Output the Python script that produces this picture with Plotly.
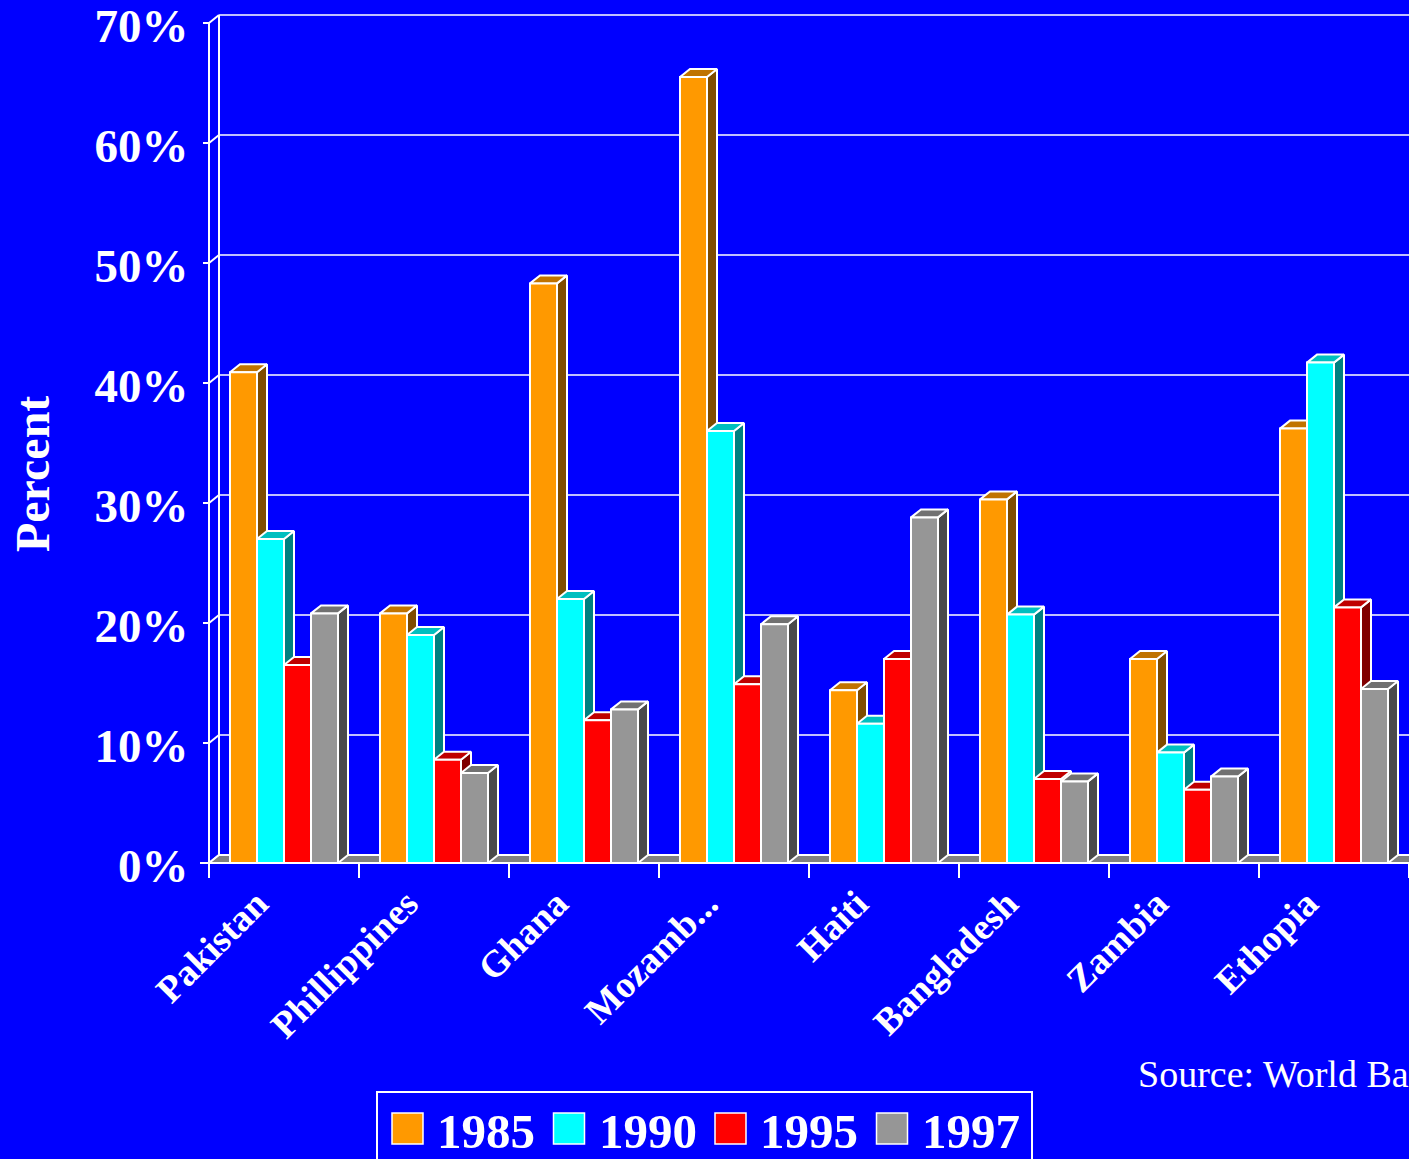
import plotly.graph_objects as go

# ---- data -------------------------------------------------------------
countries = ["Pakistan", "Phillippines", "Ghana", "Mozamb...", "Haiti",
             "Bangladesh", "Zambia", "Ethopia"]
years = ["1985", "1990", "1995", "1997"]
v1985 = [40.9, 20.8, 48.3, 65.5, 14.4, 30.3, 17.0, 36.2]
v1990 = [27.0, 19.0, 22.0, 36.0, 11.6, 20.7, 9.2, 41.7]
v1995 = [16.5, 8.6, 11.9, 14.9, 17.0, 7.0, 6.1, 21.3]
v1997 = [20.8, 7.5, 12.8, 19.9, 28.8, 6.8, 7.2, 14.5]
series = [v1985, v1990, v1995, v1997]
y_ticks = [0, 10, 20, 30, 40, 50, 60, 70]
y_ticktext = [f"{t}%" for t in y_ticks]

# ---- styling ----------------------------------------------------------
W, H = 1409, 1159
BG = "#0000FF"
FRONT = ["#FF9900", "#00FFFF", "#FF0000", "#969696"]
TOP = ["#C07300", "#00BFBF", "#BF0000", "#717171"]
SIDE = ["#7F4C00", "#008080", "#800000", "#4B4B4B"]
FLOOR = "#808080"
SERIF = "Liberation Serif"

PX_PER_CAT = 150.0
PX_PER_UNIT = 12.0
DX = 10 / PX_PER_CAT      # depth offset along x (category units)
DY = 8 / PX_PER_UNIT      # depth offset along y (percent units)
GROUP_W = 0.72
BAR_W = GROUP_W / len(series)
X_MIN, X_MAX = -0.5, len(countries) - 0.5
Y_MAX = 70

fig = go.Figure()


def poly(xs, ys, fill, line_color="white", line_width=2):
    fig.add_trace(go.Scatter(
        x=xs + [xs[0]], y=ys + [ys[0]], mode="lines", fill="toself",
        fillcolor=fill, line=dict(color=line_color, width=line_width),
        hoverinfo="skip", showlegend=False))


def line(xs, ys, width=1.6):
    fig.add_trace(go.Scatter(
        x=xs, y=ys, mode="lines", line=dict(color="white", width=width),
        hoverinfo="skip", showlegend=False))


# back wall gridlines
for t in y_ticks:
    line([X_MIN + DX, X_MAX + DX + 1], [t + DY, t + DY])

# left side wall: front edge, back edge and connectors at each tick
line([X_MIN, X_MIN], [0, Y_MAX], width=2)
line([X_MIN + DX, X_MIN + DX], [DY, Y_MAX + DY], width=2)
for t in y_ticks:
    line([X_MIN, X_MIN + DX], [t, t + DY], width=2)

# floor
poly([X_MIN, X_MAX + 1, X_MAX + 1 + DX, X_MIN + DX], [0, 0, DY, DY], FLOOR)

# 3-D columns, drawn left to right so each one hides its neighbour's side
for ci in range(len(countries)):
    for si, vals in enumerate(series):
        v = vals[ci]
        x0 = ci - GROUP_W / 2 + si * BAR_W
        x1 = x0 + BAR_W
        poly([x1, x1 + DX, x1 + DX, x1], [0, DY, v + DY, v], SIDE[si])
        poly([x0, x1, x1 + DX, x0 + DX], [v, v, v + DY, v + DY], TOP[si])
        poly([x0, x1, x1, x0], [0, 0, v, v], FRONT[si])

# front edge of the floor
line([X_MIN - 0.1, X_MAX + 1], [0, 0], width=2.2)

# ---- layout -----------------------------------------------------------
def px_x(px):
    return px / W


def px_y(py):
    return 1 - py / H


y_bottom_px, y_top_px = 872, 8
y0_px = 863
x_left_px = 200

fig.update_layout(
    width=W, height=H,
    margin=dict(l=0, r=0, t=0, b=0, autoexpand=False),
    paper_bgcolor=BG, plot_bgcolor=BG,
    showlegend=False,
    xaxis=dict(
        domain=[px_x(x_left_px), 1],
        range=[X_MIN - (209 - x_left_px) / PX_PER_CAT, X_MAX],
        tickmode="array", tickvals=list(range(len(countries))),
        ticktext=countries, tickangle=-45, ticks="",
        tickfont=dict(family=SERIF, size=37.5, color="white", weight="bold"),
        ticklabelshift=-27, ticklabelstandoff=10,
        ticklabeloverflow="allow",
        showgrid=False, zeroline=False, showline=False, automargin=False,
        anchor="free", position=px_y(y0_px),
        minor=dict(tickmode="array",
                   tickvals=[i - 0.5 for i in range(len(countries) + 1)],
                   ticks="outside", ticklen=14, tickwidth=2,
                   tickcolor="white", showgrid=False),
    ),
    yaxis=dict(
        domain=[px_y(y_bottom_px), px_y(y_top_px)],
        range=[-(y_bottom_px - y0_px) / PX_PER_UNIT,
               (y0_px - y_top_px) / PX_PER_UNIT],
        tickmode="array", tickvals=y_ticks, ticktext=y_ticktext,
        ticks="outside", ticklen=6, tickwidth=2, tickcolor="white",
        tickfont=dict(family=SERIF, size=47, color="white", weight="bold"),
        ticklabelstandoff=5, ticklabelshift=3,
        ticklabeloverflow="allow",
        showgrid=False, zeroline=False, showline=False, automargin=False,
        anchor="free", position=px_x(209),
    ),
)

# axis title
fig.add_annotation(
    x=px_x(33), y=px_y(474), xref="paper", yref="paper",
    text="Percent", textangle=-90, showarrow=False,
    font=dict(family=SERIF, size=48, color="white", weight="bold"),
    xanchor="center", yanchor="middle")

# source note
fig.add_annotation(
    x=px_x(1136), y=px_y(1074), xref="paper", yref="paper",
    text="Source: World Bank", showarrow=False,
    font=dict(family=SERIF, size=38, color="white"),
    xanchor="left", yanchor="middle")

# legend box with swatches
fig.add_shape(type="rect", xref="paper", yref="paper",
              x0=px_x(377), x1=px_x(1032), y0=px_y(1180), y1=px_y(1092),
              line=dict(color="white", width=2), fillcolor="rgba(0,0,0,0)")
for k, yr in enumerate(years):
    sx = 392 + k * 161.5
    fig.add_shape(type="rect", xref="paper", yref="paper",
                  x0=px_x(sx), x1=px_x(sx + 31), y0=px_y(1144), y1=px_y(1113),
                  line=dict(color="white", width=1.5), fillcolor=FRONT[k])
    fig.add_annotation(
        x=px_x(sx + 43), y=px_y(1131), xref="paper", yref="paper",
        text=yr, showarrow=False, xanchor="left", yanchor="middle",
        font=dict(family=SERIF, size=49, color="white", weight="bold"))

fig.write_html("out.html")
